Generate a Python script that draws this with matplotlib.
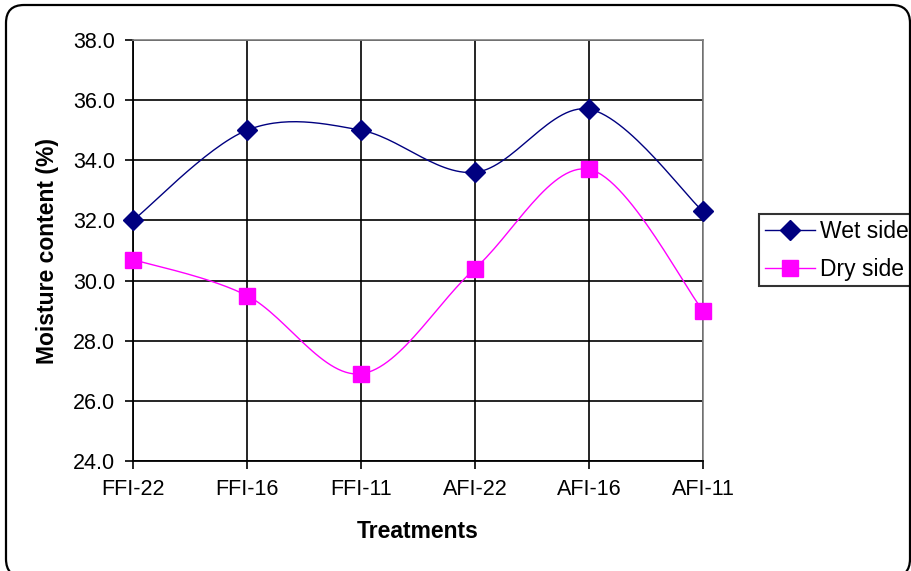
import numpy as np
import matplotlib
matplotlib.use("Agg")
import matplotlib.pyplot as plt
from matplotlib.patches import FancyBboxPatch
from matplotlib.transforms import IdentityTransform

treatments = ["FFI-22", "FFI-16", "FFI-11", "AFI-22", "AFI-16", "AFI-11"]
wet_side = [32.0, 35.0, 35.0, 33.6, 35.7, 32.3]
dry_side = [30.7, 29.5, 26.9, 30.4, 33.7, 29.0]
y_ticks = [24.0, 26.0, 28.0, 30.0, 32.0, 34.0, 36.0, 38.0]

plt.rcParams["font.family"] = ["Liberation Sans", "DejaVu Sans"]


def smooth(xs, ys, n=30):
    """Catmull-Rom style cubic Bezier smoothing through every point."""
    p = np.column_stack([xs, ys]).astype(float)
    pts = []
    for i in range(len(p) - 1):
        p0 = p[i - 1] if i > 0 else p[i]
        p1, p2 = p[i], p[i + 1]
        p3 = p[i + 2] if i + 2 < len(p) else p[i + 1]
        c1 = p1 + (p2 - p0) / 6.0
        c2 = p2 - (p3 - p1) / 6.0
        t = np.linspace(0, 1, n, endpoint=(i == len(p) - 2))[:, None]
        seg = ((1 - t) ** 3) * p1 + 3 * ((1 - t) ** 2) * t * c1 \
            + 3 * (1 - t) * t ** 2 * c2 + t ** 3 * p2
        pts.append(seg)
    pts = np.vstack(pts)
    return pts[:, 0], pts[:, 1]


W, H = 911, 571
fig = plt.figure(figsize=(W / 100, H / 100), dpi=100)
fig.patch.set_facecolor("white")

# rounded chart-area border
frame = FancyBboxPatch((6, -6), 904, 571 - 5 + 6,
                       boxstyle="round,pad=0,rounding_size=18",
                       transform=IdentityTransform(), facecolor="none",
                       edgecolor="black", linewidth=1.6, zorder=0)
fig.patches.append(frame)

ax = fig.add_axes([133 / W, (H - 461) / H, 570 / W, 421 / H])
x = np.arange(len(treatments))

wx, wy = smooth(x, wet_side)
dx, dy = smooth(x, dry_side)
ax.plot(wx, wy, color="#000080", lw=1.0, zorder=3)
ax.plot(dx, dy, color="#FF00FF", lw=1.0, zorder=3)
ax.plot(x, wet_side, linestyle="none", marker="D", ms=10,
        color="#000080", zorder=4, clip_on=False)
ax.plot(x, dry_side, linestyle="none", marker="s", ms=12,
        color="#FF00FF", zorder=4, clip_on=False)

ax.set_xlim(0, len(treatments) - 1)
ax.set_ylim(24, 38)
ax.set_xticks(x)
ax.set_xticklabels(treatments)
ax.set_yticks(y_ticks)
ax.set_yticklabels([f"{v:.1f}" for v in y_ticks])
ax.tick_params(axis="both", labelsize=15.5, direction="out", length=6,
               width=1.2, color="black", pad=7)

ax.grid(True, color="black", lw=1.2)
ax.set_axisbelow(True)
for s in ["top", "right"]:
    ax.spines[s].set_color("#808080")
    ax.spines[s].set_linewidth(1.2)
for s in ["left", "bottom"]:
    ax.spines[s].set_color("black")
    ax.spines[s].set_linewidth(1.3)

ax.set_xlabel("Treatments", fontsize=16.5, fontweight="bold", labelpad=14)
ax.set_ylabel("Moisture content (%)", fontsize=16.5, fontweight="bold",
              labelpad=10)

h1, = ax.plot([], [], color="#000080", lw=1.0, marker="D", ms=10)
h2, = ax.plot([], [], color="#FF00FF", lw=1.0, marker="s", ms=12)
leg = ax.legend([h1, h2], ["Wet side", "Dry side"], loc="upper left",
                bbox_to_anchor=(759 / W, (H - 214) / H),
                bbox_transform=fig.transFigure, fontsize=16.5,
                frameon=True, fancybox=False, edgecolor="black",
                handlelength=2.2, handletextpad=0.22, labelspacing=0.65,
                borderpad=0.25, borderaxespad=0)
leg.get_frame().set_linewidth(1.5)

fig.savefig("out.png", dpi=100)
